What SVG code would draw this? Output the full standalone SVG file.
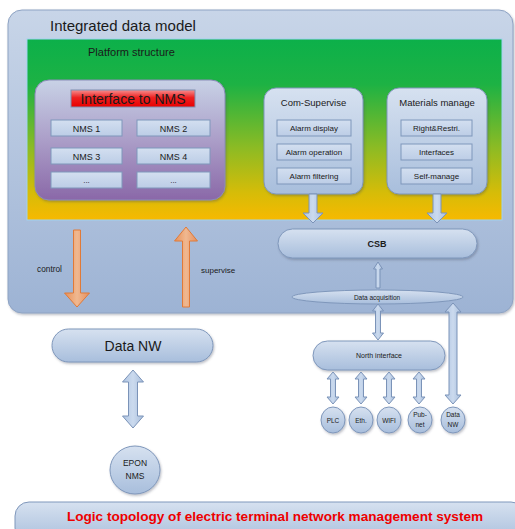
<svg xmlns="http://www.w3.org/2000/svg" width="515" height="529" viewBox="0 0 515 529">
<defs>
<linearGradient id="gOuter" x1="0" y1="0" x2="0" y2="1"><stop offset="0" stop-color="#c8d5e8"/><stop offset="1" stop-color="#9db3d4"/></linearGradient>
<linearGradient id="gGreen" x1="0" y1="0" x2="0" y2="1"><stop offset="0" stop-color="#0cb04a"/><stop offset="0.25" stop-color="#1db244"/><stop offset="0.6" stop-color="#8cbb24"/><stop offset="0.85" stop-color="#d6bc08"/><stop offset="1" stop-color="#f7b900"/></linearGradient>
<linearGradient id="gPurple" x1="0" y1="0" x2="0" y2="1"><stop offset="0" stop-color="#c8d2e6"/><stop offset="0.5" stop-color="#ab9ec8"/><stop offset="1" stop-color="#8a68a8"/></linearGradient>
<linearGradient id="gRed" x1="0" y1="0" x2="0" y2="1"><stop offset="0" stop-color="#f59090"/><stop offset="0.45" stop-color="#ee2020"/><stop offset="1" stop-color="#e80000"/></linearGradient>
<linearGradient id="gBox" x1="0" y1="0" x2="0" y2="1"><stop offset="0" stop-color="#d6e1f0"/><stop offset="1" stop-color="#a8bedc"/></linearGradient>
<linearGradient id="gSub" x1="0" y1="0" x2="0" y2="1"><stop offset="0" stop-color="#d3dff0"/><stop offset="1" stop-color="#bccde6"/></linearGradient>
<linearGradient id="gArrow" x1="0" y1="0" x2="1" y2="0"><stop offset="0" stop-color="#b0c5e2"/><stop offset="0.5" stop-color="#cbdaee"/><stop offset="1" stop-color="#a8bedc"/></linearGradient>
<linearGradient id="gOrange" x1="0" y1="0" x2="1" y2="0"><stop offset="0" stop-color="#e89058"/><stop offset="0.5" stop-color="#f0b890"/><stop offset="1" stop-color="#e49060"/></linearGradient>
<filter id="sh" x="-10%" y="-10%" width="130%" height="130%"><feDropShadow dx="1" dy="1.5" stdDeviation="1.2" flood-color="#404860" flood-opacity="0.35"/></filter>
</defs>
<style>
text{font-family:"Liberation Sans",Arial,sans-serif;fill:#1a1a1a;}
.c{text-anchor:middle;}
.box{fill:url(#gBox);stroke:#7f97bb;stroke-width:1;}
.sub{fill:url(#gSub);stroke:#7f97bb;stroke-width:1;}
.barrow{fill:url(#gArrow);stroke:#7b93b8;stroke-width:1;}
.oarrow{fill:url(#gOrange);stroke:#e07a38;stroke-width:1;}
</style>

<g id="integrated-data-model">
<rect x="8" y="10" width="505" height="303" rx="14" fill="url(#gOuter)" stroke="#8ea3c3" stroke-width="1" filter="url(#sh)"/>
<text x="50" y="31" font-size="15">Integrated data model</text>
</g>

<g id="platform-structure">
<rect x="27" y="39" width="475" height="181" fill="url(#gGreen)" stroke="#9fd2f0" stroke-width="1"/>
<text x="88" y="56" font-size="11">Platform structure</text>
</g>

<g id="interface-to-nms">
<rect x="35" y="80" width="190" height="120" rx="14" fill="url(#gPurple)" stroke="#8a8cb8" stroke-width="1" filter="url(#sh)"/>
<rect x="71" y="90" width="124" height="17" fill="url(#gRed)" stroke="#7f8fb0" stroke-width="1"/>
<text x="133" y="104" font-size="14" class="c">Interface to NMS</text>
<g id="nms1"><rect x="51" y="120" width="71" height="16" class="sub"/><text x="86.5" y="131.5" font-size="9" class="c">NMS 1</text></g>
<g id="nms2"><rect x="137" y="120" width="73" height="16" class="sub"/><text x="173.5" y="131.5" font-size="9" class="c">NMS 2</text></g>
<g id="nms3"><rect x="51" y="148" width="71" height="16" class="sub"/><text x="86.5" y="159.5" font-size="9" class="c">NMS 3</text></g>
<g id="nms4"><rect x="137" y="148" width="73" height="16" class="sub"/><text x="173.5" y="159.5" font-size="9" class="c">NMS 4</text></g>
<g id="nms5"><rect x="51" y="172" width="71" height="16" class="sub"/><text x="86.5" y="183" font-size="8" class="c">...</text></g>
<g id="nms6"><rect x="137" y="172" width="73" height="16" class="sub"/><text x="173.5" y="183" font-size="8" class="c">...</text></g>
</g>

<g id="com-supervise">
<rect x="264" y="88" width="99" height="106" rx="12" class="box" filter="url(#sh)"/>
<text x="313.5" y="106" font-size="9.5" class="c">Com-Supervise</text>
<rect x="277" y="120" width="74" height="16" class="sub"/><text x="314" y="131" font-size="8" class="c">Alarm display</text>
<rect x="277" y="144" width="74" height="16" class="sub"/><text x="314" y="155" font-size="8" class="c">Alarm operation</text>
<rect x="277" y="168" width="74" height="16" class="sub"/><text x="314" y="179" font-size="8" class="c">Alarm filtering</text>
</g>

<g id="materials-manage">
<rect x="387" y="88" width="100" height="106" rx="12" class="box" filter="url(#sh)"/>
<text x="437" y="106" font-size="9.5" class="c">Materials manage</text>
<rect x="401" y="120" width="71" height="16" class="sub"/><text x="436.5" y="131" font-size="8" class="c">Right&amp;Restri.</text>
<rect x="401" y="144" width="71" height="16" class="sub"/><text x="436.5" y="155" font-size="8" class="c">Interfaces</text>
<rect x="401" y="168" width="71" height="16" class="sub"/><text x="436.5" y="179" font-size="8" class="c">Self-manage</text>
</g>

<g id="csb">
<rect x="278" y="229" width="199" height="29" rx="14.5" class="box" filter="url(#sh)"/>
<text x="377" y="246.5" font-size="9" font-weight="bold" class="c">CSB</text>
</g>

<g id="data-acquisition">
<ellipse cx="377.5" cy="297" rx="85.5" ry="7" class="box"/>
<text x="377" y="299.5" font-size="6.5" class="c">Data acquisition</text>
</g>

<g id="north-interface">
<rect x="313" y="341" width="132" height="29" rx="14.5" class="box" filter="url(#sh)"/>
<text x="379" y="358" font-size="7" class="c">North interface</text>
</g>

<g id="plc"><ellipse cx="333" cy="420" rx="12" ry="13" class="box" filter="url(#sh)"/><text x="333" y="422.5" font-size="6.5" class="c">PLC</text></g>
<g id="eth"><ellipse cx="361" cy="420" rx="12" ry="13" class="box" filter="url(#sh)"/><text x="361" y="422.5" font-size="6.5" class="c">Eth.</text></g>
<g id="wifi"><ellipse cx="389" cy="420" rx="12" ry="13" class="box" filter="url(#sh)"/><text x="389" y="422.5" font-size="6.5" class="c">WIFI</text></g>
<g id="pubnet"><ellipse cx="420" cy="420" rx="12" ry="13" class="box" filter="url(#sh)"/><text x="420" y="417" font-size="6.5" class="c">Pub-</text><text x="420" y="427" font-size="6.5" class="c">net</text></g>
<g id="data-nw-small"><ellipse cx="453" cy="420" rx="12" ry="13" class="box" filter="url(#sh)"/><text x="453" y="417" font-size="6.5" class="c">Data</text><text x="453" y="427" font-size="6.5" class="c">NW</text></g>

<g id="data-nw">
<rect x="52" y="329" width="161" height="33" rx="16.5" class="box" filter="url(#sh)"/>
<text x="133" y="350.5" font-size="14" class="c">Data NW</text>
</g>

<g id="epon-nms">
<ellipse cx="135" cy="470" rx="25" ry="24" class="box" filter="url(#sh)"/>
<text x="135" y="466" font-size="8.5" class="c">EPON</text>
<text x="135" y="479" font-size="8.5" class="c">NMS</text>
</g>

<g id="caption">
<rect x="15" y="502" width="510" height="40" rx="14" class="box"/>
<text x="275" y="521" font-size="13.6" font-weight="bold" class="c" style="fill:#ee0000">Logic topology of electric terminal network management system</text>
</g>

<g id="connectors">
<path class="barrow" d="M309 194 H317 V213 H323 L313 223 L303 213 H309 Z"/>
<path class="barrow" d="M433 194 H441 V213 H447 L437 223 L427 213 H433 Z"/>
<path class="oarrow" d="M73.5 230 H80.5 V293 H89.5 L77 307 L64.5 293 H73.5 Z"/>
<path class="oarrow" d="M182.5 307 H189.5 V241 H197.5 L186 227 L174.5 241 H182.5 Z"/>
<path class="barrow" d="M376 288 H380 V269 H382.5 L378 262 L373.5 269 H376 Z"/>
<path class="barrow" d="M378 304 L383.5 311 H380.5 V333 H383.5 L378 340 L372.5 333 H375.5 V311 H372.5 Z"/>
<path class="barrow" d="M453 303 L461 312 H457 V395 H461 L453 404 L445 395 H449 V312 H445 Z"/>
<path class="barrow" d="M333 372 L339 379 H335.5 V397 H339 L333 404 L327 397 H330.5 V379 H327 Z"/>
<path class="barrow" d="M333 372 L339 379 H335.5 V397 H339 L333 404 L327 397 H330.5 V379 H327 Z" transform="translate(28 0)"/>
<path class="barrow" d="M333 372 L339 379 H335.5 V397 H339 L333 404 L327 397 H330.5 V379 H327 Z" transform="translate(56 0)"/>
<path class="barrow" d="M333 372 L339 379 H335.5 V397 H339 L333 404 L327 397 H330.5 V379 H327 Z" transform="translate(86 0)"/>
<path class="barrow" d="M133 370 L143.5 382 H137.5 V416 H143.5 L133 428 L122.5 416 H128.5 V382 H122.5 Z"/>
<text x="37" y="272" font-size="8.3">control</text>
<text x="201" y="273" font-size="8">supervise</text>
</g>
</svg>
